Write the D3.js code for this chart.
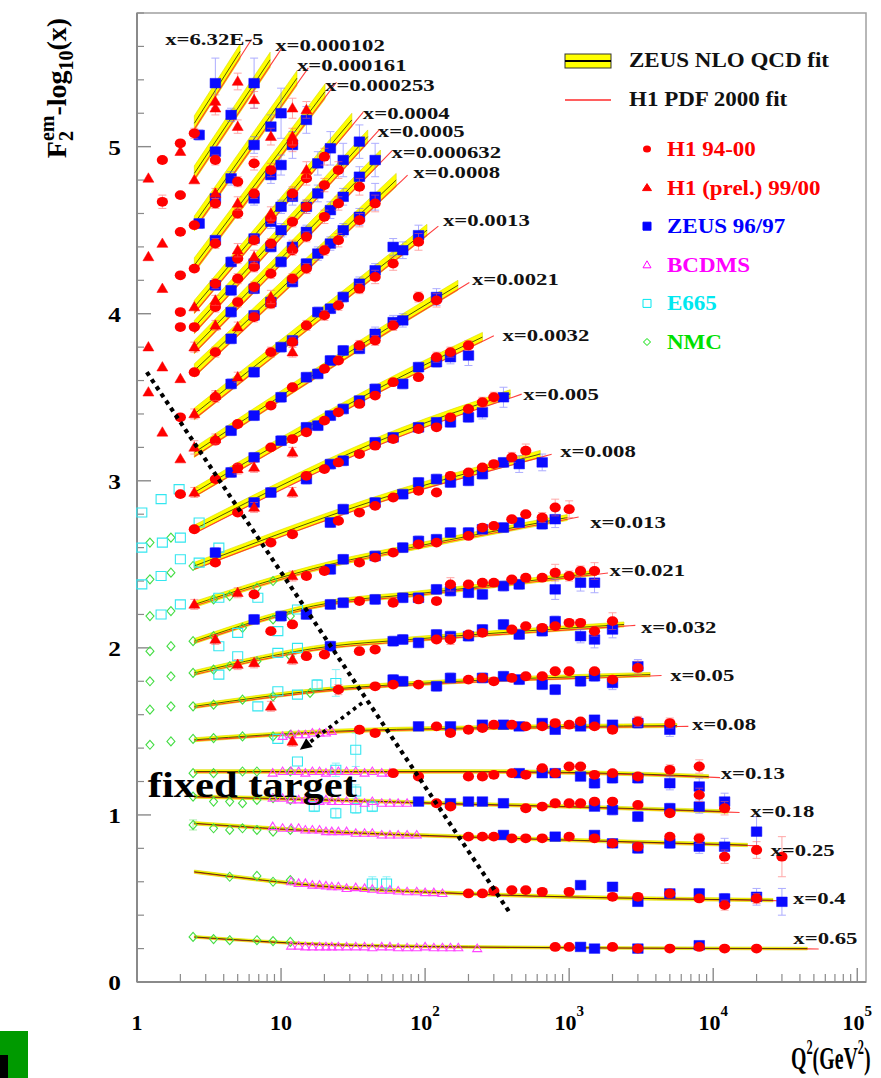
<!DOCTYPE html>
<html><head><meta charset="utf-8">
<script src="https://cdn.jsdelivr.net/npm/d3@7"></script>
<style>body{margin:0;background:#fff}svg{display:block}</style>
</head><body>
<svg id="chart" width="881" height="1078"></svg>
<script>
// ---- x bins (labels) ----
const binLabels = ["x=6.32E-5","x=0.000102","x=0.000161","x=0.000253","x=0.0004","x=0.0005",
  "x=0.000632","x=0.0008","x=0.0013","x=0.0021","x=0.0032","x=0.005","x=0.008","x=0.013",
  "x=0.021","x=0.032","x=0.05","x=0.08","x=0.13","x=0.18","x=0.25","x=0.4","x=0.65"];

// ZEUS NLO QCD fit per bin: [Q2, F2 - log10(x)] nodes
const zeusFit = [
  [[2.5,5.14],[5.2,5.57]],
  [[2.5,4.84],[8.4,5.52]],
  [[2.5,4.54],[12.9,5.41]],
  [[2.5,4.29],[20.2,5.33]],
  [[2.5,4.04],[31,5.16]],
  [[2.5,3.92],[40,5.06]],
  [[2.5,3.80],[49,4.94]],
  [[2.5,3.66],[63,4.80]],
  [[2.5,3.40],[103,4.50]],
  [[2.5,3.17],[67,3.96],[169,4.17]],
  [[2.5,2.93],[67,3.62],[250,3.86]],
  [[2.5,2.71],[67,3.29],[390,3.52]],
  [[2.5,2.49],[67,2.93],[630,3.16]],
  [[2.5,2.26],[22,2.50],[79,2.60],[970,2.78]],
  [[2.5,2.04],[22,2.27],[80,2.32],[1550,2.45]],
  [[2.5,1.85],[22,2.01],[78,2.05],[2400,2.14]],
  [[2.5,1.65],[24,1.755],[80,1.785],[3650,1.84]],
  [[2.5,1.45],[22,1.50],[183,1.52],[5600,1.535]],
  [[2.5,1.26],[183,1.26],[3000,1.245],[9300,1.23]],
  [[2.5,1.11],[22,1.09],[183,1.066],[1000,1.05],[12700,1.02]],
  [[2.5,0.95],[22,0.90],[183,0.87],[17300,0.82]],
  [[2.5,0.66],[22,0.57],[183,0.53],[26000,0.49]],
  [[2.5,0.27],[20,0.225],[200,0.21],[45000,0.20]]
];
// fit uncertainty (half width of the band)
const zeusFitErr = [0.045,0.045,0.045,0.045,0.04,0.04,0.04,0.04,0.035,0.03,0.028,0.025,0.022,
  0.018,0.016,0.015,0.013,0.012,0.011,0.01,0.01,0.01,0.008];
// H1 PDF 2000 fit relative to the ZEUS fit
const h1FitShift = [-0.035,-0.035,-0.035,-0.035,-0.035,-0.035,-0.035,-0.035,-0.03,-0.025,-0.025,
  -0.025,-0.02,-0.01,-0.01,-0.01,-0.008,-0.006,-0.004,-0.003,-0.003,-0.003,-0.002];

// ---- measurements: [Q2, F2 - log10(x), error] ----
const zeusData = [
  [2.7,5.07,.03],[3.5,5.38,.15],
  [3.5,4.97,.03],[4.5,5.19,.04],[6.5,5.38,.15],
  [2.7,4.54,.03],[3.5,4.69,.03],[4.5,4.81,.04],[6.5,5.01,.05],[8.5,5.12,.07],[10,5.20,.15],
  [3.5,4.44,.03],[6.5,4.69,.04],[8.5,4.83,.05],[10,4.89,.06],[12,5.01,.08],[15,5.16,.08],
  [3.5,4.17,.03],[4.5,4.31,.03],[6.5,4.45,.03],[8.5,4.55,.04],[10,4.64,.04],[12,4.70,.05],[18,4.90,.07],[22,4.99,.1],
  [4.5,4.14,.03],[6.5,4.30,.03],[8.5,4.40,.03],[10,4.50,.04],[15,4.64,.04],[18,4.72,.05],[27,4.92,.1],[35,5.03,.1],
  [4.5,4.01,.03],[6.5,4.15,.03],[10,4.31,.03],[12,4.40,.03],[15,4.49,.04],[22,4.62,.05],[27,4.70,.05],[35,4.82,.06],[45,4.92,.1],
  [4.5,3.85,.03],[6.5,3.99,.03],[8.5,4.07,.03],[12,4.19,.03],[15,4.30,.03],[18,4.36,.04],[22,4.42,.04],[27,4.50,.04],[35,4.58,.05],[45,4.70,.08],
  [4.5,3.58,.03],[6.5,3.65,.03],[10,3.80,.03],[12,3.84,.03],[18,4.01,.03],[22,4.03,.03],[27,4.10,.03],[35,4.18,.04],[45,4.26,.04],[60,4.40,.05],[70,4.38,.05],[90,4.47,.06],
  [4.5,3.30,.03],[6.5,3.39,.03],[10,3.50,.03],[15,3.62,.03],[18,3.64,.03],[22,3.72,.03],[27,3.78,.03],[35,3.79,.03],[45,3.88,.04],[60,3.95,.04],[70,3.96,.04],[120,4.10,.05],
  [4.5,3.05,.03],[6.5,3.14,.03],[10,3.24,.03],[15,3.32,.03],[18,3.33,.03],[22,3.39,.03],[27,3.43,.03],[35,3.48,.03],[45,3.55,.03],[70,3.58,.03],[90,3.68,.03],[120,3.71,.03],[150,3.74,.04],[200,3.75,.06],
  [6.5,2.87,.03],[8.5,2.93,.03],[15,3.01,.03],[22,3.10,.03],[27,3.12,.03],[45,3.23,.03],[60,3.26,.03],[90,3.32,.03],[120,3.35,.03],[150,3.35,.03],[200,3.38,.03],[250,3.41,.04],[350,3.50,.06],
  [3.5,2.57,.03],[22,2.75,.03],[27,2.83,.03],[45,2.87,.03],[70,2.92,.03],[90,2.99,.03],[120,3.01,.03],[150,2.99,.03],[200,3.00,.03],[250,3.04,.03],[350,3.11,.03],[450,3.10,.05],[650,3.11,.05],
  [22,2.47,.03],[27,2.53,.03],[45,2.55,.03],[70,2.60,.03],[90,2.64,.03],[120,2.65,.03],[150,2.69,.03],[200,2.69,.03],[250,2.71,.03],[350,2.72,.03],[450,2.75,.03],[650,2.74,.03],[800,2.77,.05],
  [6.5,2.17,.03],[10,2.19,.03],[15,2.20,.03],[22,2.26,.03],[27,2.27,.03],[45,2.29,.03],[70,2.30,.03],[90,2.30,.03],[120,2.35,.03],[150,2.34,.03],[200,2.33,.03],[250,2.32,.03],[350,2.37,.03],[450,2.38,.03],[800,2.35,.06],[1200,2.39,.05],[1500,2.39,.06],
  [22,2.01,.03],[60,2.04,.03],[70,2.05,.03],[90,2.03,.03],[120,2.08,.03],[150,2.07,.03],[200,2.07,.03],[250,2.11,.03],[350,2.14,.03],[450,2.08,.03],[650,2.10,.03],[800,2.16,.03],[1200,2.07,.04],[1500,2.05,.05],[2000,2.11,.05],
  [60,1.81,.03],[70,1.80,.03],[120,1.77,.03],[150,1.82,.03],[250,1.82,.03],[350,1.83,.03],[450,1.81,.03],[650,1.78,.03],[800,1.75,.03],[1200,1.80,.03],[1500,1.83,.03],[2000,1.79,.04],[3000,1.89,.04],
  [90,1.53,.02],[150,1.53,.02],[250,1.54,.02],[350,1.54,.02],[450,1.53,.02],[650,1.55,.02],[800,1.51,.02],[1200,1.53,.02],[1500,1.57,.02],[2000,1.54,.02],[3000,1.55,.03],[5000,1.51,.04],
  [450,1.25,.02],[650,1.25,.02],[800,1.25,.02],[1200,1.23,.02],[1500,1.19,.03],[2000,1.22,.03],[3000,1.22,.03],[5000,1.19,.04],[8000,1.17,.05],
  [90,1.08,.02],[150,1.07,.02],[200,1.08,.02],[250,1.08,.02],[350,1.07,.02],[1500,1.05,.02],[2000,1.03,.03],[3000,0.99,.03],[5000,1.04,.03],[8000,1.05,.04],[12000,1.08,.05],
  [350,0.88,.02],[800,0.87,.02],[1500,0.88,.02],[2000,0.83,.02],[3000,0.80,.03],[5000,0.83,.03],[8000,0.81,.04],[12000,0.81,.05],[20000,0.90,.09],
  [1200,0.58,.02],[2000,0.57,.02],[3000,0.48,.02],[5000,0.53,.02],[8000,0.53,.03],[12000,0.50,.03],[20000,0.51,.05],[30000,0.48,.08],
  [1200,0.21,.01],[1500,0.20,.01],[3000,0.20,.01],[8000,0.22,.01]
];

const h1Data = [
  [1.5,4.92,.02],[1.5,4.67,.04],[2,5.02,.02],[2,4.71,.02],[2,4.49,.02],[2,4.23,.02],[2,4.01,.02],[2,3.92,.02],[2,3.38,.02],[2,2.92,.02],
  [2.5,5.08,.03],[2.5,4.53,.02],[2.5,4.27,.02],[2.5,3.92,.02],[2.5,3.65,.02],[2.5,2.71,.02],
  [3.5,4.92,.03],
  [3.5,4.66,.03],[5,4.79,.03],[6.5,4.90,.04],
  [3.5,4.42,.03],[5,4.60,.03],[6.5,4.72,.03],[8.5,4.86,.04],[12,5.02,.05],
  [3.5,4.18,.03],[5,4.33,.03],[6.5,4.44,.03],[8.5,4.57,.03],[12,4.72,.04],[15,4.81,.04],[20,4.94,.05],
  [3.5,4.04,.03],[5,4.21,.03],[6.5,4.28,.03],[8.5,4.42,.03],[12,4.55,.03],[15,4.64,.04],[20,4.77,.04],[25,4.86,.05],
  [5,4.07,.03],[6.5,4.16,.03],[8.5,4.24,.03],[12,4.38,.03],[15,4.46,.03],[20,4.58,.04],[25,4.66,.04],[35,4.76,.05],
  [3.5,3.77,.03],[6.5,3.98,.03],[8.5,4.06,.03],[12,4.21,.03],[15,4.27,.03],[20,4.38,.03],[25,4.44,.04],[35,4.56,.04],[45,4.66,.05],
  [3.5,3.50,.03],[8.5,3.77,.03],[12,3.83,.03],[15,3.93,.03],[20,3.99,.03],[25,4.05,.03],[35,4.15,.03],[45,4.22,.04],[60,4.30,.04],[90,4.43,.05],
  [3.5,3.24,.02],[5,3.34,.02],[8.5,3.45,.02],[12,3.56,.02],[20,3.67,.02],[25,3.72,.02],[35,3.81,.03],[45,3.84,.03],[60,3.93,.03],[90,4.10,.03],[120,4.08,.04],
  [3.5,3.01,.02],[5,3.08,.02],[8.5,3.20,.02],[12,3.25,.02],[15,3.29,.02],[20,3.36,.02],[25,3.41,.02],[35,3.46,.02],[45,3.51,.02],[60,3.59,.02],[90,3.62,.02],[120,3.74,.03],[150,3.77,.03],[200,3.81,.03],
  [5,2.81,.02],[15,3.03,.02],[20,3.07,.02],[25,3.11,.02],[35,3.16,.02],[45,3.21,.02],[60,3.25,.02],[90,3.31,.02],[120,3.32,.02],[150,3.38,.02],[200,3.43,.02],[250,3.47,.03],[300,3.50,.03],
  [3.5,2.51,.02],[8.5,2.63,.02],[12,2.68,.02],[25,2.76,.02],[35,2.81,.02],[45,2.85,.02],[60,2.90,.02],[90,2.94,.02],[120,2.93,.02],[150,3.03,.02],[200,3.05,.02],[250,3.08,.02],[300,3.10,.02],[400,3.14,.03],[500,3.18,.04],
  [6.5,2.32,.02],[15,2.43,.02],[20,2.46,.02],[35,2.51,.02],[45,2.54,.02],[60,2.57,.02],[90,2.62,.02],[120,2.63,.02],[200,2.67,.02],[250,2.72,.02],[300,2.73,.02],[400,2.77,.02],[500,2.80,.02],[650,2.78,.03],[800,2.84,.05],[1000,2.83,.05],
  [8.5,2.10,.02],[12,2.14,.02],[35,2.28,.02],[60,2.27,.02],[90,2.29,.02],[120,2.28,.02],[150,2.38,.04],[200,2.38,.02],[250,2.39,.02],[300,2.39,.02],[400,2.41,.02],[500,2.42,.02],[650,2.42,.02],[800,2.45,.05],[1000,2.43,.03],[1200,2.46,.03],[1500,2.46,.05],
  [15,1.95,.02],[20,1.96,.02],[35,1.98,.02],[45,1.99,.02],[120,2.05,.02],[150,2.05,.03],[200,2.08,.02],[250,2.09,.02],[400,2.11,.02],[500,2.13,.02],[650,2.12,.02],[800,2.13,.02],[1000,2.15,.02],[1200,2.15,.02],[1500,2.10,.03],[2000,2.16,.05],
  [25,1.75,.03],[45,1.77,.02],[60,1.78,.02],[90,1.78,.02],[200,1.81,.02],[250,1.82,.02],[300,1.80,.02],[400,1.82,.02],[500,1.83,.02],[650,1.83,.02],[800,1.86,.02],[1000,1.86,.02],[1500,1.86,.02],[2000,1.81,.02],[3000,1.88,.04],
  [35,1.51,.02],[45,1.49,.02],[120,1.53,.02],[150,1.49,.02],[200,1.51,.02],[250,1.52,.02],[300,1.54,.02],[400,1.54,.02],[500,1.53,.02],[650,1.53,.02],[800,1.55,.02],[1000,1.54,.02],[1200,1.56,.02],[1500,1.53,.02],[2000,1.51,.02],[3000,1.56,.03],[5000,1.55,.03],
  [60,1.25,.02],[90,1.23,.02],[200,1.23,.02],[250,1.23,.02],[300,1.24,.02],[400,1.25,.02],[500,1.24,.02],[650,1.28,.02],[800,1.25,.02],[1000,1.29,.02],[1200,1.29,.02],[1500,1.24,.02],[2000,1.25,.02],[3000,1.23,.02],[5000,1.27,.03],[8000,1.29,.04],
  [120,1.07,.02],[150,1.05,.02],[500,1.04,.02],[650,1.05,.02],[800,1.07,.02],[1000,1.07,.02],[1200,1.07,.02],[1500,1.08,.02],[2000,1.08,.02],[3000,1.06,.02],[5000,1.01,.02],[8000,1.12,.04],[12000,1.04,.04],
  [200,0.87,.02],[250,0.87,.02],[300,0.87,.02],[400,0.86,.02],[500,0.86,.02],[650,0.86,.02],[1000,0.87,.02],[1500,0.86,.02],[2000,0.83,.02],[3000,0.81,.02],[5000,0.87,.02],[8000,0.86,.03],[12000,0.75,.04],[20000,0.79,.05],[30000,0.75,.12],
  [200,0.53,.02],[250,0.53,.02],[300,0.545,.02],[400,0.55,.02],[500,0.55,.02],[650,0.54,.02],[1000,0.54,.02],[2000,0.51,.02],[3000,0.51,.02],[5000,0.53,.02],[8000,0.50,.02],[12000,0.46,.03],[20000,0.50,.03],
  [800,0.21,.01],[1000,0.21,.01],[2000,0.21,.01],[3000,0.20,.01],[5000,0.20,.01],[8000,0.21,.01],[12000,0.20,.01],[20000,0.20,.01]
];

const h1PrelData = [
  [1.2,4.81,.02],[1.2,4.34,.02],[1.2,3.80,.02],[1.2,3.53,.02],
  [1.5,4.42,.02],[1.5,4.15,.02],[1.5,3.68,.02],[1.5,3.29,.02],
  [2,4.97,.02],[2,3.61,.02],[2,3.13,.02],
  [2.5,4.80,.02],[2.5,4.04,.02],[2.5,3.80,.03],[2.5,3.40,.03],[2.5,3.20,.04],[2.5,2.93,.03],[2.5,2.26,.03],
  [3.5,5.27,.04],[3.5,5.23,.04],[5,5.39,.05],[5,5.12,.04],[6.5,5.28,.05],
  [3.5,4.72,.03],[8.5,5.06,.05],[12,5.23,.06],[5,4.66,.04],[12,5.06,.05],[15,5.22,.05],
  [5,4.38,.04],[8.5,4.60,.04],[15,4.86,.05],[3.5,4.08,.03],[6.5,4.34,.04],
  [3.5,3.93,.03],[12,4.40,.04],[5,3.92,.03],[8.5,4.10,.04],
  [3.5,3.51,.03],[5,3.62,.03],[12,3.77,.03],[3.5,3.25,.03],[5,3.07,.03],
  [6.5,3.08,.03],[12,3.17,.03],[6.5,2.84,.03],[12,2.93,.03],[12,2.43,.03],
  [3.5,2.05,.03],[5,2.33,.03],[5,1.90,.03],[6.5,1.91,.03],[12,1.93,.03],[8.5,1.65,.03],[12,1.44,.03]
];

const bcdmsData = [
  [10.25,1.47],[11.75,1.48],[13.25,1.48],[14.75,1.48],[16.5,1.49],[18.5,1.49],[20.5,1.49],[22.5,1.50],
  [8.75,1.25],[10.25,1.26],[11.75,1.26],[13.25,1.26],[14.75,1.25],[16.5,1.26],[18.5,1.26],[20.5,1.25],[22.5,1.26],
  [25,1.26],[28.5,1.26],[33,1.26],[38,1.25],[43,1.26],[50,1.25],[57,1.25],
  [8.75,1.10],[10.25,1.10],[11.75,1.09],[13.25,1.09],[14.75,1.09],[16.5,1.09],[18.5,1.08],[20.5,1.09],[22.5,1.08],
  [25,1.08],[28.5,1.08],[33,1.08],[38,1.07],[43,1.08],[50,1.07],[57,1.07],[65,1.07],[75,1.07],
  [8.75,0.93],[10.25,0.92],[11.75,0.92],[13.25,0.92],[14.75,0.91],[16.5,0.91],[18.5,0.91],[20.5,0.90],[22.5,0.90],
  [25,0.90],[28.5,0.90],[33,0.89],[38,0.89],[43,0.89],[50,0.88],[57,0.88],[65,0.88],[75,0.88],[87.5,0.88],
  [11.75,0.60],[13.25,0.59],[14.75,0.59],[16.5,0.58],[18.5,0.58],[20.5,0.575],[22.5,0.57],[25,0.57],[28.5,0.56],
  [33,0.565],[38,0.56],[43,0.555],[50,0.55],[57,0.55],[65,0.545],[75,0.54],[87.5,0.54],[100,0.535],[115,0.535],[132,0.53],
  [11.75,0.215],[13.25,0.215],[14.75,0.21],[16.5,0.21],[18.5,0.21],[20.5,0.21],[22.5,0.21],[25,0.21],[28.5,0.21],
  [33,0.21],[38,0.21],[43,0.205],[50,0.21],[57,0.21],[65,0.205],[75,0.205],[87.5,0.205],[100,0.21],[115,0.205],
  [132,0.205],[150,0.205],[170,0.205],[230,0.20]
];

const e665Data = [
  [1.08,2.81],[1.47,2.89],[1.96,2.95],[2.7,2.75],[2.0,2.66],[1.5,2.63],[1.08,2.60],[3.7,2.60],[2.0,2.53],[2.7,2.51],
  [1.47,2.43],[1.08,2.38],[3.7,2.30],[2.0,2.26],[1.47,2.20],[6.9,2.30],[3.7,2.01],[5.0,2.09],[3.7,1.84],[5.0,1.95],
  [9.5,2.10],[9.5,1.97],[13,2.00],[13,2.23],[6.9,1.65],[9.5,1.74],[13,1.72],[17.8,1.78,.03],[24,1.79,.08],
  [9.5,1.455],[13,1.32],[17,1.05,.03],[24,1.01,.03],[33,1.04,.03],[43,1.05,.03],[24,1.27,.04],[33,1.14,.04],
  [33,1.39,.1],[43,0.59,.04],[54,0.59,.04]
];

const nmcData = [
  [1.23,2.63],[1.72,2.66],[1.23,2.41],[1.72,2.45],[1.23,2.19],[1.72,2.22],[1.23,1.98],[1.72,2.01],
  [1.23,1.80],[1.72,1.83],[1.23,1.63],[1.72,1.65],[1.23,1.42],[1.72,1.44],
  [2.45,2.49],[2.45,2.04],[2.45,1.85],[2.45,1.65],[2.45,1.455],[2.45,1.25],[2.45,1.11],[2.45,0.94,.03],[2.45,0.27],
  [3.4,2.29],[4.4,2.31],[6.8,2.36],[8.8,2.40],
  [3.4,2.07],[5.4,2.12],[8.8,2.17],[11.6,2.19],
  [3.4,1.87],[4.4,1.89],[6.8,1.92],[11.6,1.95],
  [3.4,1.66],[5.4,1.69],[8.8,1.71],[15.9,1.73],
  [3.4,1.46],[5.4,1.47],[8.8,1.47],[11.6,1.48],
  [3.4,1.25],[5.4,1.26],[6.8,1.26],[11.6,1.26],
  [3.4,1.08],[4.4,1.08],[5.4,1.07],[6.8,1.09],[8.8,1.10],[11.6,1.09],
  [3.4,0.92],[4.4,0.91],[5.4,0.92],[6.8,0.91],[8.8,0.90],[11.6,0.91],
  [4.4,0.63],[6.8,0.635],[8.8,0.60],[11.6,0.61],
  [3.4,0.257],[4.4,0.25],[6.8,0.25],[8.8,0.245],[11.6,0.24]
];

const yTickValues = [0,1,2,3,4,5];
const xTickPowers = [0,1,2,3,4,5];
const legendEntries = [
  {label:"H1 94-00", color:"#ff0000", shape:"circle"},
  {label:"H1 (prel.) 99/00", color:"#ff0000", shape:"triangle"},
  {label:"ZEUS 96/97", color:"#0000ff", shape:"square"},
  {label:"BCDMS", color:"#ff00ff", shape:"openTriangle"},
  {label:"E665", color:"#00e8f0", shape:"openSquare"},
  {label:"NMC", color:"#00e000", shape:"diamond"}
];

// ---- layout ----
const SERIF = "'Liberation Serif','Times New Roman',Times,serif";
const svg = d3.select("#chart");
const x = d3.scaleLog().domain([1, 1.15e5]).range([137, 866]);
const y = d3.scaleLinear().domain([0, 5.8]).range([982, 13]);
// label offsets from each fit's end point (px)
const labelNudge = [[-75,-12],[5,-15],[0,-13],[0,-7],[11,-7],[10,-6],[11,-5],[17,-8],[16,-10],[14,-6],
  [20,-2],[13,0],[20,-3],[23,4],[13,-3],[17,3],[20,0],[15,-2],[12,-4],[22,-1],[23,5],[20,-2],[-14,-11]];

function stretch(sel, f) {
  sel.each(function () {
    const L = this.getComputedTextLength();
    d3.select(this).attr("textLength", L * f).attr("lengthAdjust", "spacingAndGlyphs");
  });
}

// ---- frame & ticks ----
const axisCol = "#8a8a8a";
svg.append("rect").attr("x", x(1)).attr("y", y(5.8)).attr("width", x(1.15e5) - x(1))
  .attr("height", y(0) - y(5.8)).attr("fill", "none").attr("stroke", "#a0a0a0").attr("stroke-width", 1.5);
svg.append("line").attr("x1", x(1)).attr("x2", x(1)).attr("y1", y(5.8)).attr("y2", y(0))
  .attr("stroke", axisCol).attr("stroke-width", 2);
svg.append("line").attr("x1", x(1)).attr("x2", x(1.15e5)).attr("y1", y(0)).attr("y2", y(0))
  .attr("stroke", axisCol).attr("stroke-width", 2);

const yMinor = d3.range(0, 5.81, 0.2).filter(v => Math.abs(v - Math.round(v)) > 0.01);
svg.append("g").selectAll("line").data(yMinor).join("line")
  .attr("x1", x(1)).attr("x2", x(1) + 7).attr("y1", d => y(d)).attr("y2", d => y(d))
  .attr("stroke", axisCol).attr("stroke-width", 1.2);
svg.append("g").selectAll("line").data(yTickValues).join("line")
  .attr("x1", x(1)).attr("x2", x(1) + 14).attr("y1", d => y(d)).attr("y2", d => y(d))
  .attr("stroke", axisCol).attr("stroke-width", 1.4);

const xMinor = [];
for (let p = 0; p < 5; p++) for (let k = 2; k <= 9; k++) xMinor.push(k * Math.pow(10, p));
svg.append("g").selectAll("line").data(xMinor).join("line")
  .attr("x1", d => x(d)).attr("x2", d => x(d)).attr("y1", y(0)).attr("y2", y(0) - 8)
  .attr("stroke", axisCol).attr("stroke-width", 1.2);
svg.append("g").selectAll("line").data(xTickPowers).join("line")
  .attr("x1", d => x(Math.pow(10, d))).attr("x2", d => x(Math.pow(10, d)))
  .attr("y1", y(0)).attr("y2", y(0) - 14).attr("stroke", axisCol).attr("stroke-width", 1.4);

// tick labels
const yl = svg.append("g").selectAll("text").data(yTickValues).join("text")
  .attr("x", 121).attr("y", d => y(d) + 8).attr("text-anchor", "end")
  .attr("font-family", SERIF).attr("font-weight", "bold").attr("font-size", 22).text(d => d);
stretch(yl, 1.15);

xTickPowers.forEach(p => {
  const t = svg.append("text").attr("x", x(Math.pow(10, p))).attr("y", 1030)
    .attr("text-anchor", "middle").attr("font-family", SERIF).attr("font-weight", "bold").attr("font-size", 22);
  if (p === 0) t.text("1");
  else if (p === 1) t.text("10");
  else {
    t.append("tspan").text("10");
    t.append("tspan").attr("dy", -14).attr("font-size", 15).text(p);
  }
});

// axis titles
const yt = svg.append("text").attr("transform", "translate(66,88) rotate(-90)")
  .attr("text-anchor", "middle").attr("font-family", SERIF).attr("font-weight", "bold").attr("font-size", 28);
yt.append("tspan").text("F");
yt.append("tspan").attr("dy", 7).attr("font-size", 20).text("2");
yt.append("tspan").attr("dy", -19).attr("dx", -10).attr("font-size", 20).text("em");
yt.append("tspan").attr("dy", 12).text("-log");
yt.append("tspan").attr("dy", 7).attr("font-size", 20).text("10");
yt.append("tspan").attr("dy", -7).text("(x)");

// Q2 title: tall, narrow lettering
const xt = svg.append("g").attr("transform", "translate(791,1069) scale(0.62,1)")
  .append("text").attr("x", 0).attr("y", 0).attr("font-family", SERIF)
  .attr("font-weight", "bold").attr("font-size", 32);
xt.append("tspan").text("Q");
xt.append("tspan").attr("dy", -15).attr("font-size", 20).text("2");
xt.append("tspan").attr("dy", 15).text("(GeV");
xt.append("tspan").attr("dy", -15).attr("font-size", 20).text("2");
xt.append("tspan").attr("dy", 15).text(")");

// ---- fits ----
const fitG = svg.append("g");
const area = d3.area().curve(d3.curveMonotoneX)
  .x(d => x(d[0])).y0(d => y(d[1] - d[2])).y1(d => y(d[1] + d[2]));
const line = d3.line().curve(d3.curveMonotoneX).x(d => x(d[0])).y(d => y(d[1]));

zeusFit.forEach((nodes, i) => {
  const w = zeusFitErr[i];
  fitG.append("path").attr("d", area(nodes.map(n => [n[0], n[1], w])))
    .attr("fill", "#ffff00").attr("stroke", "#d8d800").attr("stroke-width", 0.6);
});
zeusFit.forEach((nodes, i) => {
  // H1 fit: shifted copy extended a little beyond the last node
  const s = h1FitShift[i];
  const a = nodes[nodes.length - 2], b = nodes[nodes.length - 1];
  const slope = (b[1] - a[1]) / (Math.log10(b[0]) - Math.log10(a[0]));
  const ext = [b[0] * 1.2, b[1] + slope * Math.log10(1.2)];
  const pts = nodes.concat([ext]).map(n => [n[0], n[1] + s]);
  fitG.append("path").attr("d", line(pts)).attr("fill", "none")
    .attr("stroke", "#ff2a2a").attr("stroke-width", 1.1).attr("opacity", 0.9);
});
zeusFit.forEach((nodes) => {
  fitG.append("path").attr("d", line(nodes)).attr("fill", "none")
    .attr("stroke", "#222200").attr("stroke-width", 0.9).attr("opacity", 0.85);
});

// ---- markers ----
function errBars(g, data, color) {
  const eb = data.filter(d => d[2] && (y(d[1] - d[2]) - y(d[1] + d[2])) > 10);
  const gg = g.append("g").attr("stroke", color).attr("stroke-width", 1).attr("opacity", 0.55);
  gg.selectAll("line.v").data(eb).join("line")
    .attr("x1", d => x(d[0])).attr("x2", d => x(d[0]))
    .attr("y1", d => y(d[1] - d[2])).attr("y2", d => y(d[1] + d[2]));
  gg.selectAll("line.t").data(eb).join("line")
    .attr("x1", d => x(d[0]) - 4).attr("x2", d => x(d[0]) + 4)
    .attr("y1", d => y(d[1] + d[2])).attr("y2", d => y(d[1] + d[2]));
  gg.selectAll("line.b").data(eb).join("line")
    .attr("x1", d => x(d[0]) - 4).attr("x2", d => x(d[0]) + 4)
    .attr("y1", d => y(d[1] - d[2])).attr("y2", d => y(d[1] - d[2]));
}
function shapePath(shape, cx, cy) {
  switch (shape) {
    case "triangle": return `M${cx - 5.5},${cy + 3.8}L${cx + 5.5},${cy + 3.8}L${cx},${cy - 5.6}Z`;
    case "openTriangle": return `M${cx - 4.5},${cy + 3}L${cx + 4.5},${cy + 3}L${cx},${cy - 4.5}Z`;
    case "square": return `M${cx - 5.3},${cy - 4.8}h10.6v9.6h-10.6Z`;
    case "openSquare": return `M${cx - 5},${cy - 4.5}h10v9h-10Z`;
    case "diamond": return `M${cx},${cy - 4.5}L${cx + 4},${cy}L${cx},${cy + 4.5}L${cx - 4},${cy}Z`;
  }
  return "";
}
function drawSeries(data, shape, color, ebColor, filled) {
  const g = svg.append("g");
  errBars(g, data, ebColor);
  if (shape === "circle") {
    g.selectAll("ellipse").data(data).join("ellipse")
      .attr("cx", d => x(d[0])).attr("cy", d => y(d[1])).attr("rx", 5.6).attr("ry", 4.9)
      .attr("fill", color);
  } else {
    g.selectAll("path.m").data(data).join("path")
      .attr("d", d => shapePath(shape, x(d[0]), y(d[1])))
      .attr("fill", filled ? color : "none").attr("stroke", color)
      .attr("stroke-width", filled ? 0.5 : 1.1);
  }
}
drawSeries(nmcData, "diamond", "#44dd44", "#66dd66", false);
drawSeries(e665Data, "openSquare", "#33e6f0", "#33e6f0", false);
drawSeries(bcdmsData, "openTriangle", "#ff44ff", "#ff44ff", false);
drawSeries(zeusData, "square", "#0a0aff", "#6b6bff", true);
drawSeries(h1Data, "circle", "#ff0000", "#ff6060", true);
drawSeries(h1PrelData, "triangle", "#ff0000", "#ff6060", true);

// ---- bin labels ----
const lab = svg.append("g").selectAll("text").data(binLabels).join("text")
  .attr("x", (d, i) => { const e = zeusFit[i][zeusFit[i].length - 1]; return x(e[0]) + labelNudge[i][0]; })
  .attr("y", (d, i) => { const e = zeusFit[i][zeusFit[i].length - 1]; return y(e[1]) + labelNudge[i][1] + 6; })
  .attr("font-family", SERIF).attr("font-weight", "bold").attr("font-size", 17.5).attr("fill", "#111")
  .text(d => d);
stretch(lab, 1.3);

// ---- fixed-target annotation ----
const ann = svg.append("g");
ann.append("line").attr("x1", x(1.17)).attr("y1", y(3.65)).attr("x2", x(390)).attr("y2", y(0.41))
  .attr("stroke", "#000").attr("stroke-width", 4.2).attr("stroke-dasharray", "4.2 4.4");
{
  const p1 = [x(36.5), y(1.67)], p2 = [x(13.5), y(1.39)];
  const ang = Math.atan2(p2[1] - p1[1], p2[0] - p1[0]);
  const back = [p2[0] - 12 * Math.cos(ang), p2[1] - 12 * Math.sin(ang)];
  ann.append("line").attr("x1", p1[0]).attr("y1", p1[1]).attr("x2", back[0]).attr("y2", back[1])
    .attr("stroke", "#000").attr("stroke-width", 3.6).attr("stroke-dasharray", "3.6 4");
  const nx = -Math.sin(ang), ny = Math.cos(ang);
  ann.append("path").attr("d",
    `M${p2[0]},${p2[1]}L${back[0] + 5.5 * nx},${back[1] + 5.5 * ny}L${back[0] - 5.5 * nx},${back[1] - 5.5 * ny}Z`)
    .attr("fill", "#000");
}
svg.append("text").attr("x", x(1.19)).attr("y", y(1.11)).attr("font-family", SERIF)
  .attr("font-weight", "bold").attr("font-size", 36).attr("fill", "#000")
  .attr("textLength", 209).attr("lengthAdjust", "spacingAndGlyphs").text("fixed target");

// ---- legend ----
const leg = svg.append("g");
leg.append("rect").attr("x", 565).attr("y", 54).attr("width", 46).attr("height", 14)
  .attr("fill", "#ffff00").attr("stroke", "#333").attr("stroke-width", 1);
leg.append("line").attr("x1", 565).attr("x2", 611).attr("y1", 61).attr("y2", 61)
  .attr("stroke", "#000").attr("stroke-width", 2);
leg.append("line").attr("x1", 565).attr("x2", 611).attr("y1", 100).attr("y2", 100)
  .attr("stroke", "#ff2a2a").attr("stroke-width", 1.6);
const lt1 = leg.append("text").attr("x", 629).attr("y", 67).attr("font-family", SERIF)
  .attr("font-weight", "bold").attr("font-size", 20).attr("fill", "#111").text("ZEUS NLO QCD fit");
const lt2 = leg.append("text").attr("x", 629).attr("y", 106).attr("font-family", SERIF)
  .attr("font-weight", "bold").attr("font-size", 20).attr("fill", "#111").text("H1 PDF 2000 fit");
stretch(lt1, 1.15); stretch(lt2, 1.15);
legendEntries.forEach((e, i) => {
  const cy = 149 + i * 38.6;
  if (e.shape === "circle") {
    leg.append("ellipse").attr("cx", 647).attr("cy", cy).attr("rx", 4).attr("ry", 3.6).attr("fill", e.color);
  } else {
    const small = { triangle: `M642.5,${cy + 3}L651.5,${cy + 3}L647,${cy - 4}Z`,
      square: `M643,${cy - 4}h8v8h-8Z`,
      openTriangle: `M643,${cy + 3}L651,${cy + 3}L647,${cy - 4}Z`,
      openSquare: `M643,${cy - 4}h8v8h-8Z`,
      diamond: `M647,${cy - 3.5}L650.5,${cy}L647,${cy + 3.5}L643.5,${cy}Z` }[e.shape];
    const filled = e.shape === "triangle" || e.shape === "square";
    leg.append("path").attr("d", small).attr("fill", filled ? e.color : "none")
      .attr("stroke", e.color).attr("stroke-width", 1);
  }
  const t = leg.append("text").attr("x", 667).attr("y", cy + 7).attr("font-family", SERIF)
    .attr("font-weight", "bold").attr("font-size", 20).attr("fill", e.color).text(e.label);
  stretch(t, 1.15);
});

// corner badge
svg.append("rect").attr("x", 0).attr("y", 1031).attr("width", 28).attr("height", 47).attr("fill", "#009a00");
svg.append("rect").attr("x", 0).attr("y", 1055).attr("width", 8).attr("height", 23).attr("fill", "#000");
</script>
</body></html>
